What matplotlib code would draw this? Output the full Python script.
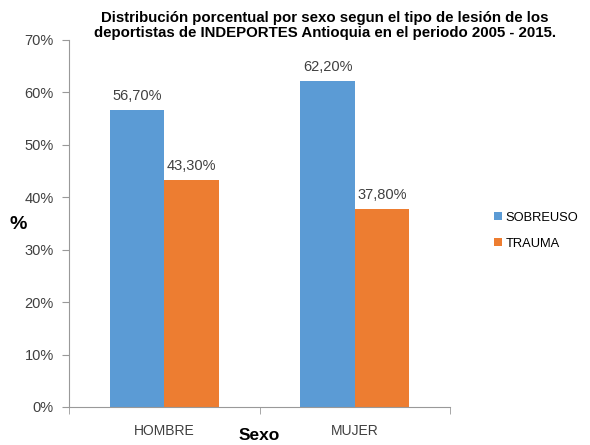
import matplotlib
matplotlib.use('Agg')
from matplotlib import pyplot as plt
import numpy as np
from matplotlib.ticker import FuncFormatter, FixedLocator

categories = ['HOMBRE', 'MUJER']
series_names = ['SOBREUSO', 'TRAUMA']
sobreuso = [56.7, 62.2]
trauma = [43.3, 37.8]
colors = ['#5B9BD5', '#ED7D31']

plt.rcParams['font.family'] = ['Liberation Sans', 'DejaVu Sans']

fig = plt.figure(figsize=(5.9, 4.45), dpi=100)
ax = fig.add_axes([0.117, 0.0854, 0.646, 0.825])

x = np.arange(len(categories))
width = 0.286
bars1 = ax.bar(x - width / 2, sobreuso, width, color=colors[0], label=series_names[0])
bars2 = ax.bar(x + width / 2, trauma, width, color=colors[1], label=series_names[1])

for bars in (bars1, bars2):
    for b in bars:
        ax.annotate('{:.2f}%'.format(b.get_height()).replace('.', ','),
                    (b.get_x() + b.get_width() / 2, b.get_height()),
                    xytext=(0, 5), textcoords='offset points',
                    ha='center', va='bottom', fontsize=10.5, color='#404040')

ax.set_xlim(-0.5, 1.5)
ax.set_ylim(0, 70)
ax.set_yticks(np.arange(0, 71, 10))
ax.yaxis.set_major_formatter(FuncFormatter(lambda v, p: '{:.0f}%'.format(v)))
ax.set_xticks(x)
ax.set_xticklabels(categories)
ax.xaxis.set_minor_locator(FixedLocator([-0.5, 0.5, 1.5]))
ax.tick_params(axis='x', which='major', length=0, pad=12, labelsize=10, colors='#404040')
ax.tick_params(axis='x', which='minor', length=5, direction='out', color='#999999')
ax.tick_params(axis='y', length=5, direction='out', color='#999999', pad=6,
               labelsize=10.5, labelcolor='#404040')

for s in ('top', 'right'):
    ax.spines[s].set_visible(False)
for s in ('left', 'bottom'):
    ax.spines[s].set_color('#999999')

fig.suptitle('Distribución porcentual por sexo segun el tipo de lesión de los\n'
             'deportistas de INDEPORTES Antioquia en el periodo 2005 - 2015.',
             x=0.551, y=0.975, fontsize=10.8, fontweight='bold', linespacing=1.05)

fig.text(0.03, 0.495, '%', fontsize=14, fontweight='bold', ha='center', va='center')
ax.set_xlabel('Sexo', fontsize=12.5, fontweight='bold', labelpad=-7)

ax.legend(loc='center left', bbox_to_anchor=(1.085, 0.48), frameon=False,
          handlelength=0.6, handleheight=0.6, handletextpad=0.3,
          labelspacing=1.1, fontsize=9.3)

fig.savefig('out.png', dpi=100)
